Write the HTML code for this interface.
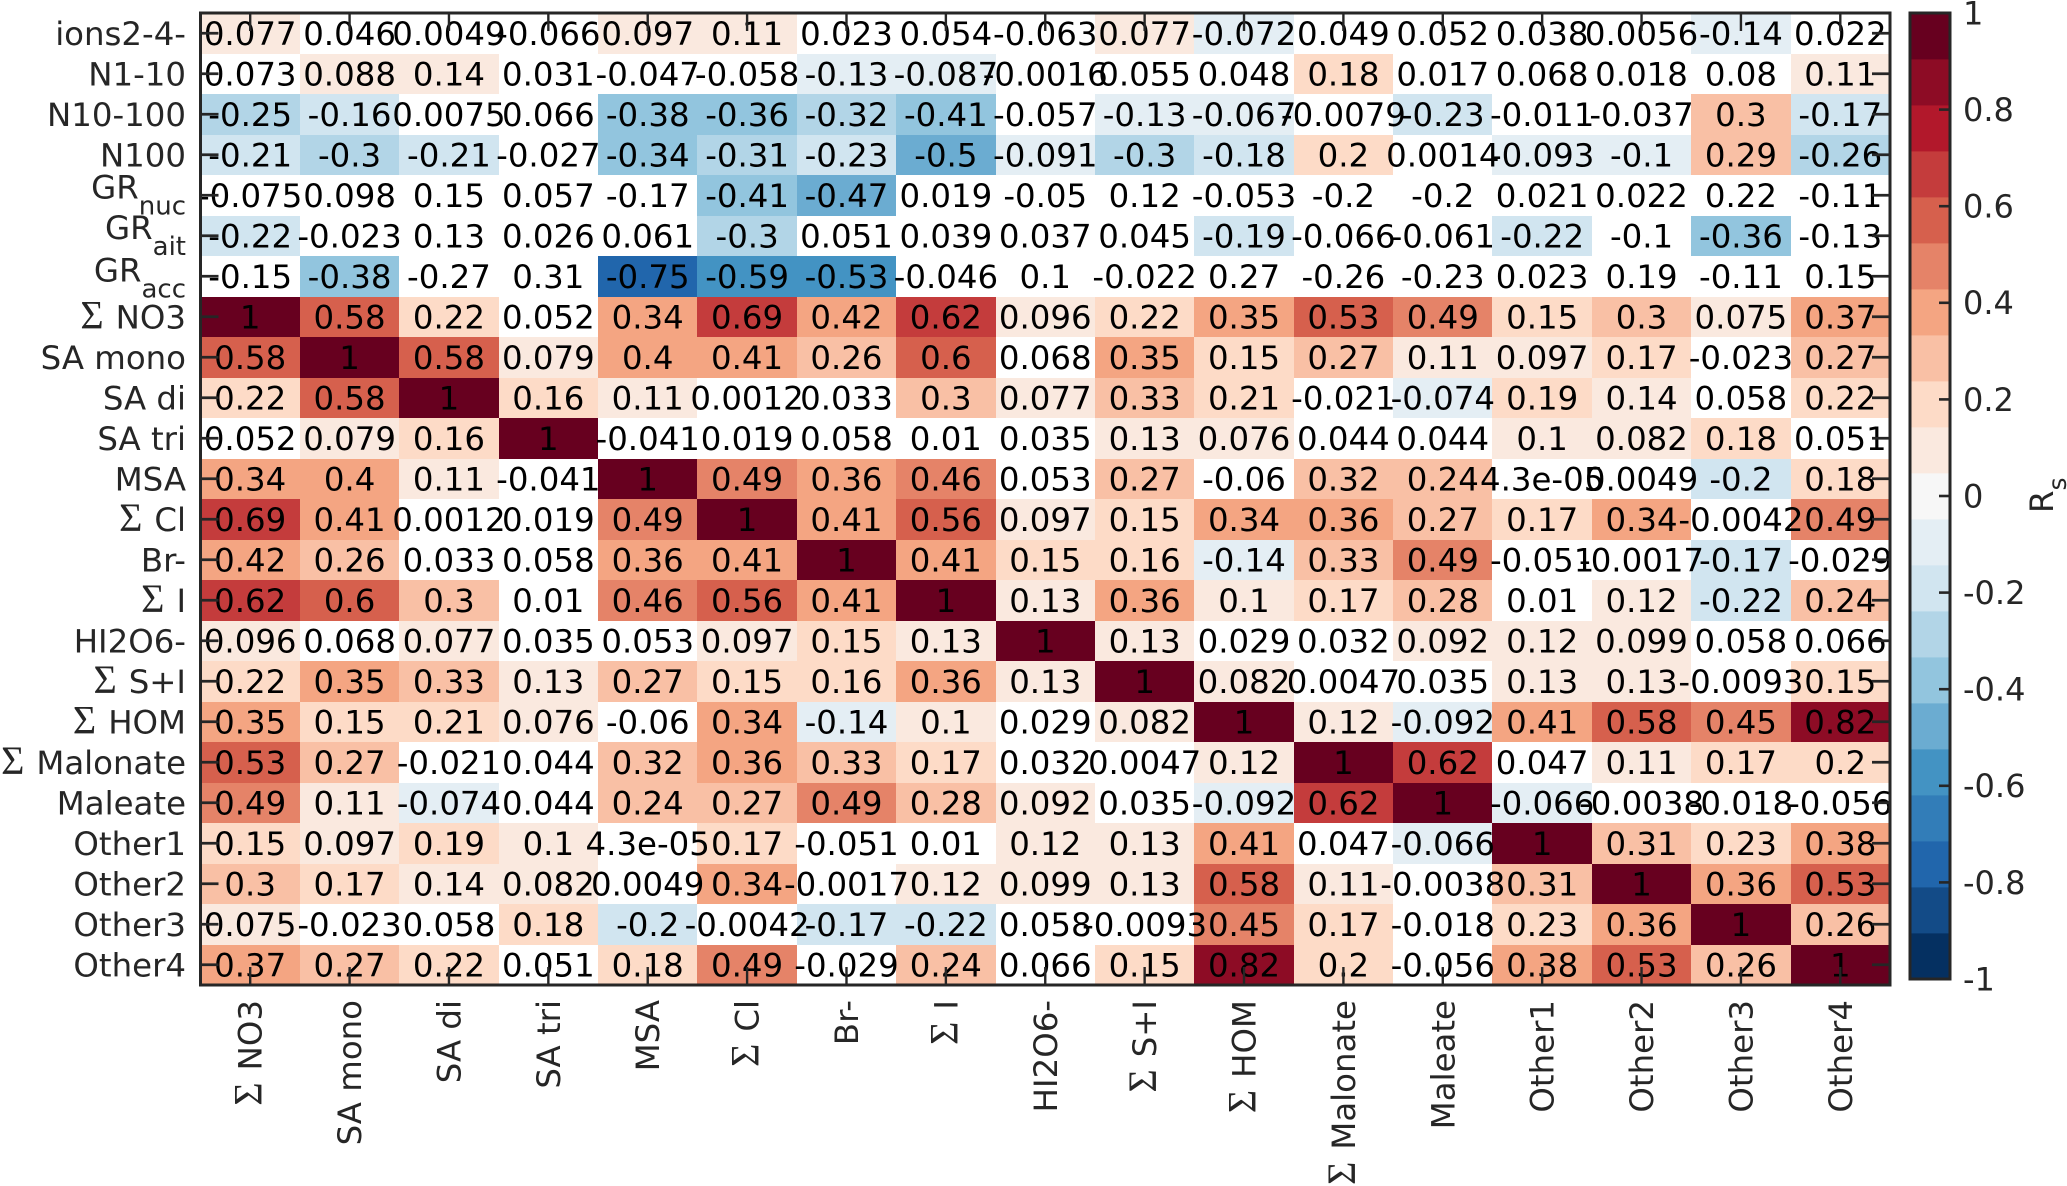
<!DOCTYPE html>
<html lang="en">
<head>
<meta charset="utf-8">
<title>Spearman correlation heatmap</title>
<style>
html,body{margin:0;padding:0;background:#fff;width:2067px;height:1186px;overflow:hidden}
svg{display:block}
text{font-family:"DejaVu Sans","Liberation Sans",sans-serif}
.sig{font-family:"Liberation Serif","DejaVu Serif",serif}
</style>
</head>
<body>
<svg id="chart" xmlns="http://www.w3.org/2000/svg" width="2067" height="1186" viewBox="0 0 2067 1186"></svg>
<script>
const rowLabels = ["ions2-4-","N1-10","N10-100","N100","GR_nuc","GR_ait","GR_acc","Σ NO3","SA mono","SA di","SA tri","MSA","Σ Cl","Br-","Σ I","HI2O6-","Σ S+I","Σ HOM","Σ Malonate","Maleate","Other1","Other2","Other3","Other4"];
const colLabels = ["Σ NO3","SA mono","SA di","SA tri","MSA","Σ Cl","Br-","Σ I","HI2O6-","Σ S+I","Σ HOM","Σ Malonate","Maleate","Other1","Other2","Other3","Other4"];
const colorbarTicks = [1,0.8,0.6,0.4,0.2,0,-0.2,-0.4,-0.6,-0.8,-1];
const gasRowValues = [
[0.077,0.046,0.0049,-0.066,0.097,0.11,0.023,0.054,-0.063,0.077,-0.072,0.049,0.052,0.038,0.0056,-0.14,0.022],
[0.073,0.088,0.14,0.031,-0.047,-0.058,-0.13,-0.087,-0.0016,0.055,0.048,0.18,0.017,0.068,0.018,0.08,0.11],
[-0.25,-0.16,0.0075,0.066,-0.38,-0.36,-0.32,-0.41,-0.057,-0.13,-0.067,-0.0079,-0.23,-0.011,-0.037,0.3,-0.17],
[-0.21,-0.3,-0.21,-0.027,-0.34,-0.31,-0.23,-0.5,-0.091,-0.3,-0.18,0.2,0.0014,-0.093,-0.1,0.29,-0.26],
[-0.075,0.098,0.15,0.057,-0.17,-0.41,-0.47,0.019,-0.05,0.12,-0.053,-0.2,-0.2,0.021,0.022,0.22,-0.11],
[-0.22,-0.023,0.13,0.026,0.061,-0.3,0.051,0.039,0.037,0.045,-0.19,-0.066,-0.061,-0.22,-0.1,-0.36,-0.13],
[-0.15,-0.38,-0.27,0.31,-0.75,-0.59,-0.53,-0.046,0.1,-0.022,0.27,-0.26,-0.23,0.023,0.19,-0.11,0.15]
];
const aerosolRowValues = [
[1,0.58,0.22,0.052,0.34,0.69,0.42,0.62,0.096,0.22,0.35,0.53,0.49,0.15,0.3,0.075,0.37],
[0.58,1,0.58,0.079,0.4,0.41,0.26,0.6,0.068,0.35,0.15,0.27,0.11,0.097,0.17,-0.023,0.27],
[0.22,0.58,1,0.16,0.11,0.0012,0.033,0.3,0.077,0.33,0.21,-0.021,-0.074,0.19,0.14,0.058,0.22],
[0.052,0.079,0.16,1,-0.041,0.019,0.058,0.01,0.035,0.13,0.076,0.044,0.044,0.1,0.082,0.18,0.051],
[0.34,0.4,0.11,-0.041,1,0.49,0.36,0.46,0.053,0.27,-0.06,0.32,0.24,0.000043,0.0049,-0.2,0.18],
[0.69,0.41,0.0012,0.019,0.49,1,0.41,0.56,0.097,0.15,0.34,0.36,0.27,0.17,0.34,-0.0042,0.49],
[0.42,0.26,0.033,0.058,0.36,0.41,1,0.41,0.15,0.16,-0.14,0.33,0.49,-0.051,-0.0017,-0.17,-0.029],
[0.62,0.6,0.3,0.01,0.46,0.56,0.41,1,0.13,0.36,0.1,0.17,0.28,0.01,0.12,-0.22,0.24],
[0.096,0.068,0.077,0.035,0.053,0.097,0.15,0.13,1,0.13,0.029,0.032,0.092,0.12,0.099,0.058,0.066],
[0.22,0.35,0.33,0.13,0.27,0.15,0.16,0.36,0.13,1,0.082,0.0047,0.035,0.13,0.13,-0.0093,0.15],
[0.35,0.15,0.21,0.076,-0.06,0.34,-0.14,0.1,0.029,0.082,1,0.12,-0.092,0.41,0.58,0.45,0.82],
[0.53,0.27,-0.021,0.044,0.32,0.36,0.33,0.17,0.032,0.0047,0.12,1,0.62,0.047,0.11,0.17,0.2],
[0.49,0.11,-0.074,0.044,0.24,0.27,0.49,0.28,0.092,0.035,-0.092,0.62,1,-0.066,-0.0038,-0.018,-0.056],
[0.15,0.097,0.19,0.1,0.000043,0.17,-0.051,0.01,0.12,0.13,0.41,0.047,-0.066,1,0.31,0.23,0.38],
[0.3,0.17,0.14,0.082,0.0049,0.34,-0.0017,0.12,0.099,0.13,0.58,0.11,-0.0038,0.31,1,0.36,0.53],
[0.075,-0.023,0.058,0.18,-0.2,-0.0042,-0.17,-0.22,0.058,-0.0093,0.45,0.17,-0.018,0.23,0.36,1,0.26],
[0.37,0.27,0.22,0.051,0.18,0.49,-0.029,0.24,0.066,0.15,0.82,0.2,-0.056,0.38,0.53,0.26,1]
];
/* values between these per-row cut-offs are not significant and stay blank */
const rowUpperCut = [0.074,0.085,0.074,0.074,0.23,0.15,0.32,0.074,0.074,0.074,0.074,0.074,0.074,0.074,0.074,0.074,0.074,0.074,0.074,0.074,0.074,0.074,0.074,0.074];
const rowLowerCut = [-0.07,-0.065,-0.065,-0.065,-0.23,-0.15,-0.3,-0.065,-0.065,-0.065,-0.065,-0.065,-0.065,-0.065,-0.065,-0.065,-0.065,-0.065,-0.065,-0.065,-0.065,-0.065,-0.065,-0.065];

const values = gasRowValues.concat(aerosolRowValues);
const NS = "http://www.w3.org/2000/svg";
const svg = document.getElementById("chart");
const plot = {left:200.5, right:1890, top:13, bottom:985};
const bar = {left:1910, right:1950, top:13, bottom:979};
const FONT = 32.4;
const cellW = (plot.right - plot.left) / colLabels.length;
const cellH = (plot.bottom - plot.top) / rowLabels.length;
function xScale(i){ return plot.left + i * cellW; }
function yScale(i){ return plot.top + i * cellH; }
function barScale(v){ return bar.top + (1 - v) / 2 * (bar.bottom - bar.top); }
const anchors = ["#053061","#2166ac","#4393c3","#92c5de","#d1e5f0","#f7f7f7","#fddbc7","#f4a582","#d6604d","#b2182b","#67001f"];
function rgb(h){ return [1,3,5].map(function(k){ return parseInt(h.substr(k,2),16); }); }
function levelColor(level){
  const p = (level + 10) / 2, a = Math.floor(p), b = Math.ceil(p);
  const ca = rgb(anchors[a]), cb = rgb(anchors[b]);
  return "rgb(" + ca.map(function(c,k){ return Math.round((c + cb[k]) / 2); }).join(",") + ")";
}
function valueLevel(v){ return Math.max(-10, Math.min(10, Math.round(v * 10.5))); }
function fmt(v){
  if (v !== 0 && Math.abs(v) < 1e-4) {
    const s = v.toExponential(1).split("e");
    const n = Math.abs(parseInt(s[1], 10));
    return s[0] + "e" + (s[1][0] === "-" ? "-" : "+") + (n < 10 ? "0" + n : n);
  }
  return String(v);
}
function el(tag, attrs, parent){
  const e = document.createElementNS(NS, tag);
  for (const k in attrs) e.setAttribute(k, attrs[k]);
  (parent || svg).appendChild(e);
  return e;
}
function fillLabel(t, label){
  if (label.indexOf("Σ ") === 0) {
    const s = el("tspan", {"class":"sig","font-size":"40"}, t);
    s.textContent = "Σ";
    const r = el("tspan", {dx:"12"}, t);
    r.textContent = label.slice(2);
  } else if (label.indexOf("_") > 0) {
    const parts = label.split("_");
    const m = el("tspan", {}, t);
    m.textContent = parts[0];
    const r = el("tspan", {dy:"16","font-size":"26"}, t);
    r.textContent = parts[1];
  } else {
    t.textContent = label;
  }
}

/* heat cells */
values.forEach(function(row, r){
  row.forEach(function(v, c){
    if (v > rowLowerCut[r] && v < rowUpperCut[r]) return;
    const x0 = Math.round(xScale(c)), x1 = Math.round(xScale(c + 1));
    const y0 = Math.round(yScale(r)), y1 = Math.round(yScale(r + 1));
    const cell = el("rect", {x:x0, y:y0, width:x1 - x0, height:y1 - y0, fill:levelColor(valueLevel(v))});
    
    
  });
});
/* annotations */
values.forEach(function(row, r){
  row.forEach(function(v, c){
    const t = el("text", {x:xScale(c + 0.5), y:yScale(r + 0.5) + 11.7, "text-anchor":"middle", "font-size":FONT, fill:"#000"});
    t.textContent = fmt(v);
    
    
  });
});
/* ticks */
rowLabels.forEach(function(_, r){
  const y = yScale(r + 0.5);
  const a = el("line", {x1:plot.left, x2:plot.left + 18, y1:y, y2:y, stroke:"#262626", "stroke-width":"2.7"});
  
  
  const b = el("line", {x1:plot.right - 18, x2:plot.right, y1:y, y2:y, stroke:"#262626", "stroke-width":"2.7"});
  
  
});
colLabels.forEach(function(_, c){
  const x = xScale(c + 0.5);
  const a = el("line", {x1:x, x2:x, y1:plot.top, y2:plot.top + 18, stroke:"#262626", "stroke-width":"2.4"});
  
  
  const b = el("line", {x1:x, x2:x, y1:plot.bottom - 18, y2:plot.bottom, stroke:"#262626", "stroke-width":"2.4"});
  
  
});
/* frame */
const frame = el("rect", {x:plot.left, y:plot.top, width:plot.right - plot.left, height:plot.bottom - plot.top, fill:"none", stroke:"#262626", "stroke-width":"3"});


/* axis labels */
rowLabels.forEach(function(label, r){
  const isGR = label.indexOf("_") > 0;
  const dy = isGR ? (r === 6 ? 5 : 3) : 11.7;
  const t = el("text", {x:186, y:yScale(r + 0.5) + dy, "text-anchor":"end", "font-size":FONT, fill:"#262626"});
  fillLabel(t, label);
  
  
});
colLabels.forEach(function(label, c){
  const x = xScale(c + 0.5) + 11.5, y = 1000;
  const t = el("text", {x:x, y:y, "text-anchor":"end", "font-size":FONT, fill:"#262626", transform:"rotate(-90 " + x + " " + y + ")"});
  fillLabel(t, label);
  
  
});
/* colorbar */
for (let level = -10; level <= 10; level++) {
  const lo = (level - 0.5) / 10.5, hi = (level + 0.5) / 10.5;
  const y0 = barScale(hi), y1 = barScale(lo);
  const seg = el("rect", {x:bar.left, y:y0, width:bar.right - bar.left, height:y1 - y0 + 0.4, fill:levelColor(level)});
  
  
}
const barFrame = el("rect", {x:bar.left, y:bar.top, width:bar.right - bar.left, height:bar.bottom - bar.top, fill:"none", stroke:"#262626", "stroke-width":"3"});


colorbarTicks.forEach(function(v){
  const y = barScale(v);
  if (Math.abs(v) < 1) {
    const tick = el("line", {x1:bar.right - 11, x2:bar.right, y1:y, y2:y, stroke:"#262626", "stroke-width":"2.6"});
    
    
  }
  const t = el("text", {x:1963, y:y + 11.4, "font-size":"32", fill:"#262626"});
  t.textContent = String(v);
  
  
});
const title = el("text", {x:2053, y:513, "font-size":FONT, fill:"#262626", transform:"rotate(-90 2053 513)"});
const titleMain = el("tspan", {}, title);
titleMain.textContent = "R";
const titleSub = el("tspan", {dy:"13", "font-size":"25"}, title);
titleSub.textContent = "s";


</script>
</body>
</html>
